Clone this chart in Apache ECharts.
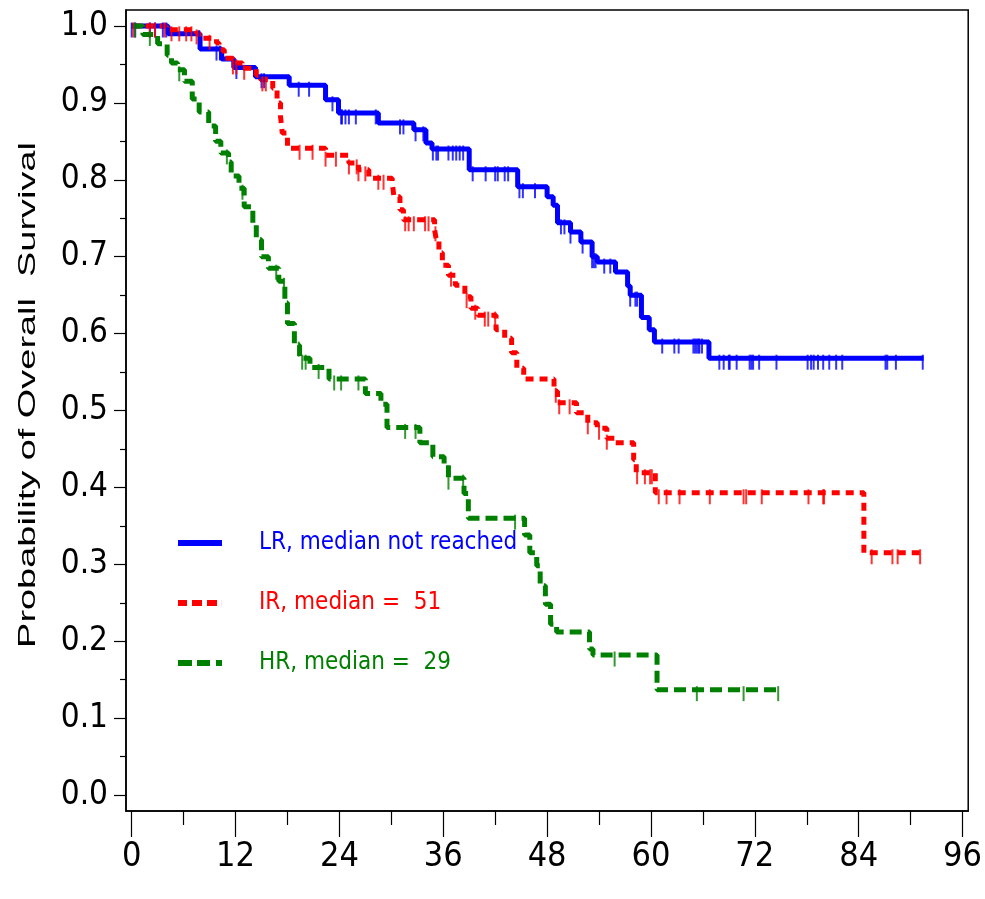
<!DOCTYPE html>
<html>
<head>
<meta charset="utf-8">
<script src="https://cdn.jsdelivr.net/npm/echarts@6/dist/echarts.min.js"></script>
<style>
html,body{margin:0;padding:0;background:#fff;}
#chart{width:985px;height:899px;}
</style>
</head>
<body>
<div id="chart"></div>
<script>
// ---- data (months, survival probability) ----
const xTicks = [0, 12, 24, 36, 48, 60, 72, 84, 96];
const xMinorTicks = [6, 18, 30, 42, 54, 66, 78, 90];
const yTicks = [0.0, 0.1, 0.2, 0.3, 0.4, 0.5, 0.6, 0.7, 0.8, 0.9, 1.0];
const yMinorTicks = [0.05, 0.15, 0.25, 0.35, 0.45, 0.55, 0.65, 0.75, 0.85, 0.95];

const groupNames = ['LR, median not reached', 'IR, median =  51', 'HR, median =  29'];

const lrTimes = [0, 4.2, 7.9, 10.4, 11.8, 14.3, 18.2, 22.4, 23.9, 28.5, 32.6, 34.0, 34.7, 39.0, 44.6, 48.0, 48.7, 49.2, 50.7, 51.9, 53.2, 53.8, 55.9, 57.3, 57.6, 58.9, 59.8, 60.4, 66.7, 91.5];
const lrSurv  = [1.0, 0.990, 0.970, 0.957, 0.946, 0.934, 0.923, 0.904, 0.887, 0.874, 0.865, 0.848, 0.840, 0.813, 0.791, 0.778, 0.767, 0.744, 0.732, 0.719, 0.700, 0.693, 0.680, 0.662, 0.650, 0.621, 0.605, 0.589, 0.568, 0.568];
const lrCensor = [0, 0.4, 2.1, 2.7, 3.6, 4.0, 7.8, 9.8, 10.2, 12.1, 15.0, 15.3, 19.3, 20.5, 23.2, 24.2, 24.3, 24.7, 25.1, 25.9, 28.2, 31.0, 31.4, 32.8, 33.7, 34.8, 35.2, 35.4, 36.6, 37.1, 37.5, 37.9, 38.3, 39.4, 40.9, 42.0, 42.3, 43.1, 43.5, 44.8, 45.2, 46.6, 49.6, 50.0, 50.7, 52.1, 53.2, 53.4, 53.6, 54.6, 55.3, 57.6, 58.2, 58.4, 61.3, 62.7, 63.2, 64.9, 65.1, 65.3, 65.5, 65.6, 65.9, 67.9, 68.4, 69.0, 69.1, 69.9, 71.4, 71.6, 71.8, 72.5, 74.5, 78.1, 78.5, 78.8, 79.3, 79.9, 80.6, 81.4, 82.1, 87.1, 87.3, 88.3, 91.4];

const irTimes = [0, 4.0, 7.5, 7.8, 9.8, 10.1, 10.7, 11.7, 12.8, 14.4, 14.9, 16.3, 16.8, 17.2, 17.4, 18.0, 22.4, 25.1, 26.2, 27.4, 30.1, 30.3, 31.0, 31.4, 35.0, 35.2, 35.5, 35.9, 36.6, 37.4, 38.5, 39.2, 40.0, 42.1, 43.1, 43.9, 44.5, 45.3, 48.8, 49.2, 51.4, 52.7, 53.8, 54.9, 55.8, 58.0, 58.3, 60.5, 84.6, 91.2];
const irSurv  = [1.0, 0.995, 0.991, 0.984, 0.978, 0.969, 0.958, 0.952, 0.945, 0.936, 0.930, 0.919, 0.900, 0.882, 0.861, 0.841, 0.832, 0.822, 0.813, 0.802, 0.797, 0.778, 0.761, 0.748, 0.735, 0.722, 0.705, 0.689, 0.676, 0.663, 0.648, 0.633, 0.624, 0.605, 0.594, 0.575, 0.555, 0.541, 0.525, 0.510, 0.497, 0.484, 0.477, 0.464, 0.458, 0.436, 0.419, 0.393, 0.315, 0.315];
const irCensor = [0.2, 2.1, 2.7, 3.8, 4.6, 5.5, 6.3, 6.9, 7.5, 9.0, 11.7, 12.1, 13.0, 15.1, 15.5, 19.4, 20.9, 22.4, 23.6, 25.1, 26.0, 26.2, 27.0, 28.5, 29.1, 31.6, 32.0, 32.6, 33.9, 34.3, 35.1, 36.9, 38.7, 39.7, 40.8, 41.2, 42.0, 49.0, 49.4, 50.6, 52.7, 54.0, 54.9, 58.4, 59.3, 59.9, 60.1, 60.9, 61.8, 63.3, 66.8, 70.7, 71.0, 72.8, 78.2, 79.9, 80.0, 85.5, 87.9, 88.5, 91.1];

const hrTimes = [0, 1.3, 3.0, 4.1, 4.6, 5.3, 6.1, 7.0, 7.8, 8.9, 9.7, 10.3, 11.2, 11.5, 12.4, 13.0, 14.0, 14.4, 15.0, 15.8, 17.0, 17.7, 18.0, 18.8, 19.4, 20.6, 22.8, 27.0, 28.8, 29.5, 33.3, 34.8, 36.1, 36.6, 38.4, 38.9, 45.4, 46.0, 46.8, 47.2, 47.8, 48.4, 49.1, 52.9, 53.3, 60.7, 74.7];
const hrSurv  = [1.0, 0.989, 0.977, 0.962, 0.952, 0.943, 0.928, 0.905, 0.888, 0.870, 0.850, 0.835, 0.823, 0.805, 0.789, 0.765, 0.743, 0.722, 0.700, 0.685, 0.668, 0.640, 0.613, 0.585, 0.568, 0.556, 0.541, 0.522, 0.508, 0.478, 0.458, 0.440, 0.430, 0.412, 0.392, 0.360, 0.338, 0.315, 0.298, 0.272, 0.248, 0.222, 0.212, 0.190, 0.182, 0.137, 0.137];
const hrCensor = [0.4, 2.1, 5.5, 11.0, 12.8, 16.7, 17.6, 19.3, 19.7, 20.1, 21.6, 23.4, 24.2, 26.2, 31.6, 32.8, 36.6, 38.3, 44.3, 55.8, 65.3, 70.7, 74.7];

// ---- helpers ----
function pairs(ts, ss) { return ts.map((t, i) => [t, ss[i]]); }
function survAt(ts, ss, t) {
  let v = ss[0];
  for (let i = 0; i < ts.length; i++) { if (ts[i] <= t) v = ss[i]; else break; }
  return v;
}
function censorPts(cs, ts, ss) { return cs.map(t => [t, survAt(ts, ss, t)]); }

const colors = ['#0000ff', '#ff0000', '#008000'];
const narrow = '"Liberation Sans Narrow", "Arial Narrow", "DejaVu Sans Condensed", "Liberation Sans", sans-serif';

function lineSeries(name, ts, ss, color, type) {
  return {
    name: name, type: 'line', step: 'end', symbol: 'none', animation: false,
    data: pairs(ts, ss),
    lineStyle: { color: color, width: 5, type: type, cap: 'butt' },
    itemStyle: { color: color },
    z: 3
  };
}
function censorSeries(cs, ts, ss, color) {
  return {
    type: 'scatter', symbol: 'rect', symbolSize: [2, 15], symbolOffset: [0, 4],
    data: censorPts(cs, ts, ss), itemStyle: { color: color }, animation: false,
    silent: true, z: 4
  };
}

const chart = echarts.init(document.getElementById('chart'), null, { renderer: 'canvas' });
const xMin = -0.655, xMax = 96.655, yMin = -0.0208, yMax = 1.0208;

const option = {
  backgroundColor: '#ffffff',
  animation: false,
  grid: { left: 126, right: 12, top: 10, bottom: 88, show: true, borderColor: '#000', borderWidth: 1.5, backgroundColor: 'transparent' },
  xAxis: [
    {
      type: 'value', min: xMin, max: xMax, position: 'bottom',
      axisLine: { show: true, onZero: false, lineStyle: { color: '#000', width: 1.5 } },
      axisTick: { show: true, customValues: xTicks, length: 26, lineStyle: { color: '#000', width: 1.2 } },
      axisLabel: { show: true, customValues: xTicks, margin: 29, color: '#000', fontSize: 34, fontFamily: narrow },
      splitLine: { show: false }
    },
    {
      type: 'value', min: xMin, max: xMax, position: 'bottom',
      axisLine: { show: false, onZero: false },
      axisTick: { show: true, customValues: xMinorTicks, length: 14, lineStyle: { color: '#000', width: 1.2 } },
      axisLabel: { show: false },
      splitLine: { show: false }
    }
  ],
  yAxis: [
    {
      type: 'value', min: yMin, max: yMax, position: 'left',
      axisLine: { show: true, onZero: false, lineStyle: { color: '#000', width: 1.5 } },
      axisTick: { show: true, customValues: yTicks, length: 12, lineStyle: { color: '#000', width: 1.2 } },
      axisLabel: { show: true, customValues: yTicks, margin: 18, color: '#000', fontSize: 33, fontFamily: narrow,
        formatter: v => v.toFixed(1) },
      splitLine: { show: false }
    },
    {
      type: 'value', min: yMin, max: yMax, position: 'left',
      axisLine: { show: false, onZero: false },
      axisTick: { show: true, customValues: yMinorTicks, length: 6, lineStyle: { color: '#000', width: 1.2 } },
      axisLabel: { show: false },
      splitLine: { show: false }
    }
  ],
  legend: {
    orient: 'vertical', left: 173, top: 526,
    itemWidth: 44, itemHeight: 6, itemGap: 36,
    data: [
      { name: groupNames[0], icon: 'path://M0,0h44v6h-44z', textStyle: { color: colors[0] } },
      { name: groupNames[1], icon: 'path://M0,0h9v6h-9zM14,0h10v6h-10zM29,0h10v6h-10zM43.9,0h0.1v6h-0.1z', textStyle: { color: colors[1] } },
      { name: groupNames[2], icon: 'path://M0,0h14v6h-14zM19,0h13v6h-13zM38,0h6v6h-6z', textStyle: { color: colors[2] } }
    ],
    itemStyle: { opacity: 1 },
    textStyle: { fontSize: 24, fontFamily: narrow, padding: [0, 0, 0, 32] }
  },
  graphic: [
    {
      type: 'text', x: 28, y: 395, rotation: Math.PI / 2, scaleX: 1.58, scaleY: 1,
      style: { text: 'Probability of Overall  Survival', font: '24px "Liberation Sans", Arial, sans-serif', fill: '#000', align: 'center', verticalAlign: 'middle' }
    }
  ],
  series: [
    lineSeries(groupNames[0], lrTimes, lrSurv, colors[0], 'solid'),
    lineSeries(groupNames[1], irTimes, irSurv, colors[1], [8, 6]),
    lineSeries(groupNames[2], hrTimes, hrSurv, colors[2], [12, 6]),
    censorSeries(lrCensor, lrTimes, lrSurv, colors[0]),
    censorSeries(irCensor, irTimes, irSurv, colors[1]),
    censorSeries(hrCensor, hrTimes, hrSurv, colors[2])
  ]
};
chart.setOption(option);
</script>
</body>
</html>
